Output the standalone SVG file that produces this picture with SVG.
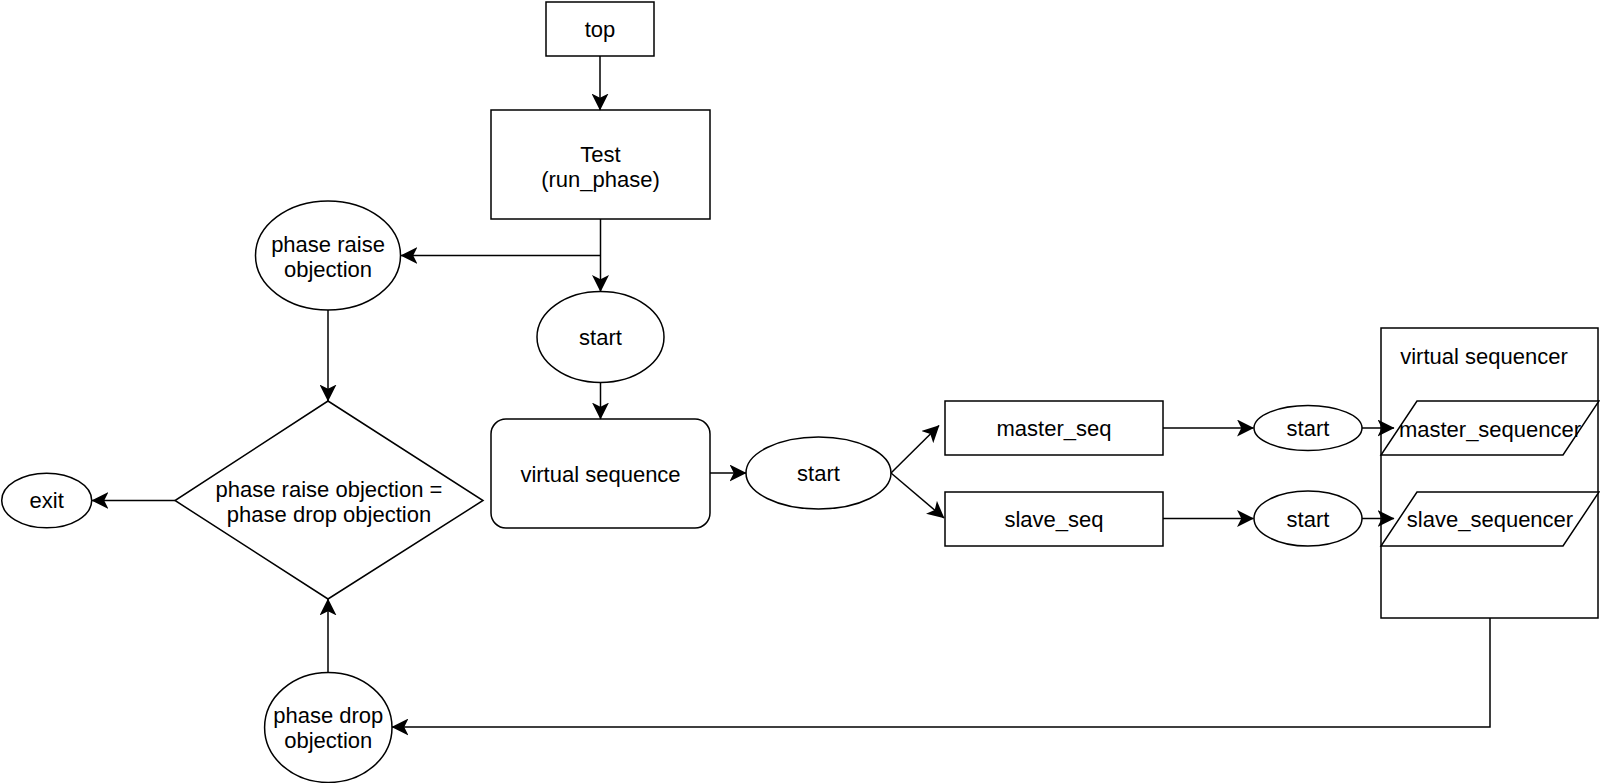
<svg xmlns="http://www.w3.org/2000/svg" width="1600" height="783" viewBox="0 0 1600 783">
<style>
.s{fill:#fff;stroke:#000;stroke-width:1.5}
.c{fill:none;stroke:#000;stroke-width:1.5}
text{font-family:"Liberation Sans",Arial,sans-serif;font-size:22px;fill:#000;text-anchor:middle}
</style>
<defs>
<marker id="a" markerUnits="userSpaceOnUse" markerWidth="17" markerHeight="17" viewBox="0 0 16 16" refX="15.5" refY="8" orient="auto">
<path d="M0,0 L16,8 L0,16 L4,8 Z" fill="#000"/>
</marker>
</defs>
<rect width="1600" height="783" fill="#fff"/>
<g id="top"><rect class="s" x="546" y="2" width="108" height="54"/><text x="600" y="37">top</text></g>
<g id="test"><rect class="s" x="491" y="110" width="219" height="109"/><text x="600.5" y="161.5">Test</text><text x="600.5" y="186.5">(run_phase)</text></g>
<g id="phase-raise"><ellipse class="s" cx="328" cy="255.5" rx="72.5" ry="54.5"/><text x="328" y="252">phase raise</text><text x="328" y="277">objection</text></g>
<g id="start1"><ellipse class="s" cx="600.5" cy="337" rx="63.5" ry="45.5"/><text x="600.5" y="345">start</text></g>
<g id="decision"><polygon class="s" points="328,401 483,500.5 328,599 175,500.5"/><text x="329" y="497">phase raise objection =</text><text x="329" y="522">phase drop objection</text></g>
<g id="exit"><ellipse class="s" cx="46.7" cy="500.5" rx="45" ry="27.3"/><text x="46.7" y="508">exit</text></g>
<g id="virtual-sequence"><rect class="s" x="491" y="419" width="219" height="109" rx="15" ry="15"/><text x="600.5" y="481.5">virtual sequence</text></g>
<g id="start2"><ellipse class="s" cx="818.5" cy="473" rx="72.5" ry="36"/><text x="818.5" y="481">start</text></g>
<g id="master-seq"><rect class="s" x="945" y="401" width="218" height="54"/><text x="1054" y="436">master_seq</text></g>
<g id="slave-seq"><rect class="s" x="945" y="492" width="218" height="54"/><text x="1054" y="527">slave_seq</text></g>
<g id="start3"><ellipse class="s" cx="1308" cy="428" rx="54" ry="22.5"/><text x="1308" y="436">start</text></g>
<g id="start4"><ellipse class="s" cx="1308" cy="518.5" rx="54" ry="27.5"/><text x="1308" y="527">start</text></g>
<g id="virtual-sequencer"><rect class="s" x="1381" y="328" width="217" height="290"/><text x="1484" y="364">virtual sequencer</text></g>
<g id="master-sequencer"><polygon class="s" points="1417,401 1599,401 1563,455 1381,455"/><text x="1490" y="436.5">master_sequencer</text></g>
<g id="slave-sequencer"><polygon class="s" points="1417,492 1599,492 1563,546 1381,546"/><text x="1490" y="527">slave_sequencer</text></g>
<g id="phase-drop"><ellipse class="s" cx="328.3" cy="727.5" rx="63.7" ry="55"/><text x="328.3" y="722.5">phase drop</text><text x="328.3" y="747.5">objection</text></g>
<g id="connectors">
<path class="c" d="M600,56 V110" marker-end="url(#a)"/>
<path class="c" d="M600.5,219 V291.5" marker-end="url(#a)"/>
<path class="c" d="M600.5,255.5 H401" marker-end="url(#a)"/>
<path class="c" d="M600.5,382.5 V419" marker-end="url(#a)"/>
<path class="c" d="M328,310 V401" marker-end="url(#a)"/>
<path class="c" d="M175,500.5 H92" marker-end="url(#a)"/>
<path class="c" d="M710,473 H746" marker-end="url(#a)"/>
<path class="c" d="M891,473 L939,425.5" marker-end="url(#a)"/>
<path class="c" d="M891,473 L944,518" marker-end="url(#a)"/>
<path class="c" d="M1163,428 H1253.5" marker-end="url(#a)"/>
<path class="c" d="M1163,518.5 H1253.5" marker-end="url(#a)"/>
<path class="c" d="M1362,428 H1394" marker-end="url(#a)"/>
<path class="c" d="M1362,518.5 H1394" marker-end="url(#a)"/>
<path class="c" d="M328,672.5 V599" marker-end="url(#a)"/>
<path class="c" d="M1490,618 V727 H392" marker-end="url(#a)"/>
</g>
</svg>
